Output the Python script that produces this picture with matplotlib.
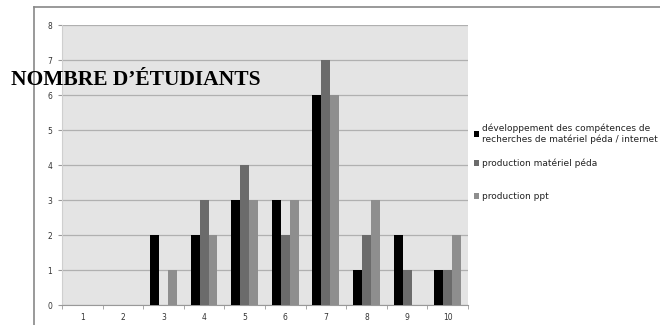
import numpy as np
import matplotlib
matplotlib.use("Agg")
import matplotlib.pyplot as plt
from matplotlib.lines import Line2D

categories = ["1", "2", "3", "4", "5", "6", "7", "8", "9", "10"]
dev_competences = [0, 0, 2, 2, 3, 3, 6, 1, 2, 1]
prod_materiel = [0, 0, 0, 3, 4, 2, 7, 2, 1, 1]
prod_ppt = [0, 0, 1, 2, 3, 3, 6, 3, 0, 2]
series_labels = [
    "développement des compétences de\nrecherches de matériel péda / internet",
    "production matériel péda",
    "production ppt",
]
colors = ["#000000", "#6b6b6b", "#8e8e8e"]

fig = plt.figure(figsize=(6.6, 3.25), dpi=100)
ax = fig.add_axes([0.094, 0.0615, 0.615, 0.8615])

x = np.arange(len(categories))
w = 0.22
bars = []
for i, (vals, lab, c) in enumerate(zip([dev_competences, prod_materiel, prod_ppt],
                                       series_labels, colors)):
    bars.append(ax.bar(x + (i - 1) * w, vals, width=w, color=c, label=lab, zorder=3))

ax.set_facecolor("#e4e4e4")
ax.set_xlim(-0.5, len(categories) - 0.5)
ax.set_ylim(0, 8)
ax.set_yticks(range(0, 9))
ax.set_xticks(x)
ax.set_xticklabels(categories)
ax.set_xticks(np.arange(-0.5, len(categories), 1), minor=True)
ax.tick_params(axis="x", which="major", length=0, labelsize=5.5, colors="#333333", pad=6)
ax.tick_params(axis="x", which="minor", length=3, color="#999999")
ax.tick_params(axis="y", length=3, labelsize=5.5, colors="#333333", color="#999999", pad=4)
ax.grid(axis="y", color="#b0b0b0", linewidth=0.9, zorder=1)
for s in ["top", "right"]:
    ax.spines[s].set_visible(False)
ax.spines["left"].set_color("#cfcfcf")
ax.spines["bottom"].set_color("#999999")

# legend in two pieces so the spacing after the two-line entry can differ
leg_kw = dict(loc="upper left", frameon=False, fontsize=6.5, handlelength=0.6,
              handleheight=0.6, handletextpad=0.3, borderaxespad=0)
leg1 = ax.legend(bars[:1], series_labels[:1], bbox_to_anchor=(1.005, 0.662), **leg_kw)
ax.add_artist(leg1)
leg2 = ax.legend(bars[1:], series_labels[1:], bbox_to_anchor=(1.005, 0.535),
                 labelspacing=2.65, **leg_kw)
for leg in (leg1, leg2):
    for t in leg.get_texts():
        t.set_color("#222222")

fig.text(0.206, 0.754, "NOMBRE D\u2019ÉTUDIANTS", family="Liberation Serif",
         fontweight="bold", fontsize=15.5, ha="center", va="center")

# outer chart frame
fig.add_artist(Line2D([0.052, 0.052], [0, 0.978], color="#888888", lw=1.2, transform=fig.transFigure))
fig.add_artist(Line2D([0.052, 1.0], [0.978, 0.978], color="#888888", lw=1.2, transform=fig.transFigure))

fig.savefig("out.png", dpi=100)
